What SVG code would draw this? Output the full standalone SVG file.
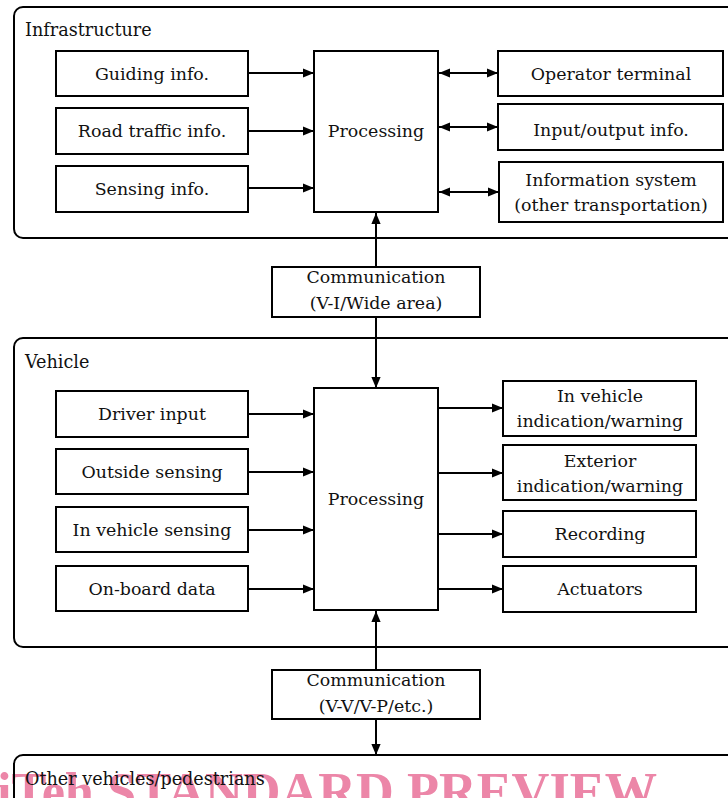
<svg xmlns="http://www.w3.org/2000/svg" width="728" height="798" viewBox="0 0 728 798">
<defs>
<style>
.grp{fill:none;stroke:#000;stroke-width:2}
.box{fill:#fff;stroke:#000;stroke-width:2}
.t{font-family:"DejaVu Serif","Liberation Serif",serif;font-size:17.4px;fill:#111;text-anchor:middle}
.lbl{font-family:"DejaVu Serif","Liberation Serif",serif;font-size:17.6px;fill:#111}
.ln{stroke:#000;stroke-width:2;fill:none}
.wm{font-family:"Liberation Serif",serif;font-weight:bold;font-size:53px;fill:#ec86a8}
</style>
<marker id="ah" viewBox="0 0 10 10" refX="10" refY="5" markerWidth="11" markerHeight="11" markerUnits="userSpaceOnUse" orient="auto-start-reverse">
<path d="M0,0.8 L10,5 L0,9.2 Z" fill="#000"/>
</marker>
</defs>

<g id="infrastructure">
<rect class="grp" x="14" y="7" width="740" height="231" rx="9"/>
<text class="lbl" x="25" y="36">Infrastructure</text>
</g>
<g id="vehicle">
<rect class="grp" x="14" y="338" width="740" height="309" rx="9"/>
<text class="lbl" x="25" y="368">Vehicle</text>
</g>
<g id="others">
<text class="wm" x="-3" y="809" textLength="660" lengthAdjust="spacingAndGlyphs">iTeh STANDARD PREVIEW</text>
<rect class="grp" x="14" y="755" width="740" height="80" rx="9"/>
<text class="lbl" x="25" y="785">Other vehicles/pedestrians</text>
</g>

<g id="guiding"><rect class="box" x="56" y="51" width="192" height="45"/><text class="t" x="152" y="80">Guiding info.</text></g>
<g id="road"><rect class="box" x="56" y="108" width="192" height="46"/><text class="t" x="152" y="137">Road traffic info.</text></g>
<g id="sensing"><rect class="box" x="56" y="166" width="192" height="46"/><text class="t" x="152" y="195">Sensing info.</text></g>
<g id="proc1"><rect class="box" x="314" y="51" width="124" height="161"/><text class="t" x="376" y="137">Processing</text></g>
<g id="operator"><rect class="box" x="498" y="51" width="225" height="45"/><text class="t" x="611" y="80">Operator terminal</text></g>
<g id="io"><rect class="box" x="498" y="104" width="225" height="46"/><text class="t" x="611" y="136">Input/output info.</text></g>
<g id="infosys"><rect class="box" x="499" y="162" width="224" height="60"/><text class="t" x="611" y="186">Information system</text><text class="t" x="611" y="211">(other transportation)</text></g>

<g id="comm1"><rect class="box" x="272" y="267" width="208" height="50"/><text class="t" x="376" y="283">Communication</text><text class="t" x="376" y="309">(V-I/Wide area)</text></g>

<g id="driver"><rect class="box" x="56" y="391" width="192" height="46"/><text class="t" x="152" y="420">Driver input</text></g>
<g id="outside"><rect class="box" x="56" y="449" width="192" height="45"/><text class="t" x="152" y="478">Outside sensing</text></g>
<g id="invs"><rect class="box" x="56" y="507" width="192" height="45"/><text class="t" x="152" y="536">In vehicle sensing</text></g>
<g id="onboard"><rect class="box" x="56" y="566" width="192" height="45"/><text class="t" x="152" y="595">On-board data</text></g>
<g id="proc2"><rect class="box" x="314" y="388" width="124" height="222"/><text class="t" x="376" y="505">Processing</text></g>
<g id="invw"><rect class="box" x="503" y="381" width="193" height="55"/><text class="t" x="600" y="402">In vehicle</text><text class="t" x="600" y="427">indication/warning</text></g>
<g id="extw"><rect class="box" x="503" y="445" width="193" height="55"/><text class="t" x="600" y="467">Exterior</text><text class="t" x="600" y="492">indication/warning</text></g>
<g id="recording"><rect class="box" x="503" y="511" width="193" height="46"/><text class="t" x="600" y="540">Recording</text></g>
<g id="actuators"><rect class="box" x="503" y="566" width="193" height="46"/><text class="t" x="600" y="595">Actuators</text></g>

<g id="comm2"><rect class="box" x="272" y="670" width="208" height="49"/><text class="t" x="376" y="686">Communication</text><text class="t" x="376" y="712">(V-V/V-P/etc.)</text></g>

<g id="connectors">
<line class="ln" x1="248" y1="73" x2="314" y2="73" marker-end="url(#ah)"/>
<line class="ln" x1="248" y1="131" x2="314" y2="131" marker-end="url(#ah)"/>
<line class="ln" x1="248" y1="188" x2="314" y2="188" marker-end="url(#ah)"/>
<line class="ln" x1="439" y1="73" x2="498" y2="73" marker-start="url(#ah)" marker-end="url(#ah)"/>
<line class="ln" x1="439" y1="127" x2="498" y2="127" marker-start="url(#ah)" marker-end="url(#ah)"/>
<line class="ln" x1="439" y1="192" x2="499" y2="192" marker-start="url(#ah)" marker-end="url(#ah)"/>
<line class="ln" x1="376" y1="267" x2="376" y2="213" marker-end="url(#ah)"/>
<line class="ln" x1="376" y1="317" x2="376" y2="388" marker-end="url(#ah)"/>
<line class="ln" x1="248" y1="414" x2="314" y2="414" marker-end="url(#ah)"/>
<line class="ln" x1="248" y1="472" x2="314" y2="472" marker-end="url(#ah)"/>
<line class="ln" x1="248" y1="530" x2="314" y2="530" marker-end="url(#ah)"/>
<line class="ln" x1="248" y1="589" x2="314" y2="589" marker-end="url(#ah)"/>
<line class="ln" x1="438" y1="408" x2="503" y2="408" marker-end="url(#ah)"/>
<line class="ln" x1="438" y1="473" x2="503" y2="473" marker-end="url(#ah)"/>
<line class="ln" x1="438" y1="534" x2="503" y2="534" marker-end="url(#ah)"/>
<line class="ln" x1="438" y1="589" x2="503" y2="589" marker-end="url(#ah)"/>
<line class="ln" x1="376" y1="670" x2="376" y2="611" marker-end="url(#ah)"/>
<line class="ln" x1="376" y1="719" x2="376" y2="755" marker-end="url(#ah)"/>
</g>
</svg>
